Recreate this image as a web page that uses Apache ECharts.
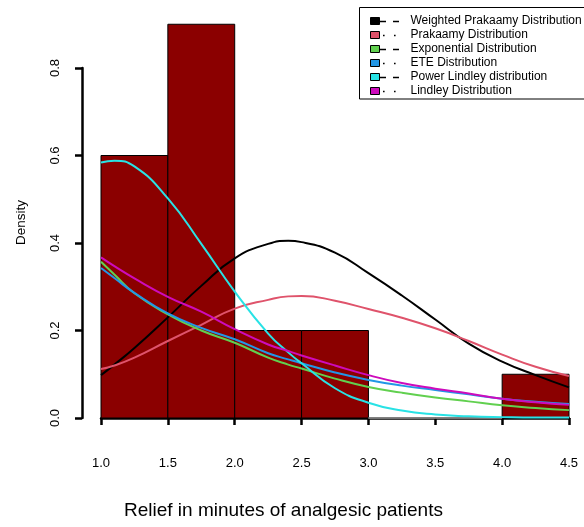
<!DOCTYPE html>
<html><head><meta charset="utf-8">
<script src="https://cdn.jsdelivr.net/npm/echarts@6/dist/echarts.min.js"></script>
<style>html,body{margin:0;padding:0;background:#fff}#c{width:584px;height:527px}</style>
</head><body><div id="c"></div>
<script>
// Histogram bins
const binStart = [1.0, 1.5, 2.0, 2.5, 3.0, 3.5, 4.0];
const binEnd   = [1.5, 2.0, 2.5, 3.0, 3.5, 4.0, 4.5];
const binDensity = [0.6, 0.9, 0.2, 0.2, 0.0, 0.0, 0.1];

// Fitted density curves
const curveX = [1.0, 1.1, 1.25, 1.5, 1.75, 2.0, 2.25, 2.4, 2.5, 2.75, 3.0, 3.25, 3.5, 3.75, 4.0, 4.25, 4.5];
const weightedPrakaamy = [0.098, 0.122, 0.160, 0.230, 0.302, 0.365, 0.398, 0.405, 0.402, 0.378, 0.331, 0.280, 0.225, 0.170, 0.129, 0.098, 0.070];
const prakaamy         = [0.112, 0.120, 0.138, 0.176, 0.213, 0.250, 0.270, 0.278, 0.279, 0.268, 0.249, 0.229, 0.205, 0.176, 0.145, 0.117, 0.096];
const exponential      = [0.357, 0.328, 0.285, 0.237, 0.200, 0.172, 0.138, 0.122, 0.113, 0.090, 0.071, 0.058, 0.047, 0.038, 0.029, 0.023, 0.018];
const ete              = [0.343, 0.320, 0.286, 0.239, 0.206, 0.180, 0.148, 0.134, 0.125, 0.104, 0.087, 0.074, 0.064, 0.054, 0.044, 0.037, 0.032];
const powerLindley     = [0.584, 0.588, 0.575, 0.502, 0.398, 0.289, 0.193, 0.150, 0.125, 0.068, 0.035, 0.017, 0.008, 0.004, 0.002, 0.001, 0.001];
const lindley          = [0.367, 0.347, 0.319, 0.277, 0.243, 0.203, 0.168, 0.153, 0.143, 0.120, 0.098, 0.080, 0.067, 0.056, 0.044, 0.036, 0.030];

const seriesNames = ['Weighted Prakaamy Distribution', 'Prakaamy Distribution', 'Exponential Distribution',
                     'ETE Distribution', 'Power Lindley distribution', 'Lindley Distribution'];
const seriesValues = [weightedPrakaamy, prakaamy, exponential, ete, powerLindley, lindley];
const seriesColors = ['#000000', '#DF536B', '#61D04F', '#2297E6', '#28E2E5', '#CD0BBC'];
const legendDashed = [true, false, true, false, true, false];

const xTickMin = 1.0, xTickMax = 4.5, xTickStep = 0.5;
const yTickMin = 0.0, yTickMax = 0.8, yTickStep = 0.2;

const chart = echarts.init(document.getElementById('c'), null, {renderer: 'canvas'});

const FONT = 'Liberation Sans, Arial, sans-serif';
const histData = binStart.map((s, i) => [s, binEnd[i], binDensity[i]]);

const series = [{
  type: 'custom',
  name: 'hist',
  clip: false,
  z: 1,
  data: histData,
  encode: {x: [0, 1], y: 2},
  renderItem: function (params, api) {
    const x0 = api.value(0), x1 = api.value(1), h = api.value(2);
    const p0 = api.coord([x0, 0]);
    const p1 = api.coord([x1, h]);
    return {
      type: 'rect',
      shape: {x: p0[0], y: p1[1], width: p1[0] - p0[0], height: p0[1] - p1[1]},
      style: {fill: '#8B0000', stroke: h > 0 ? '#000' : '#999', lineWidth: 1}
    };
  }
}];
seriesNames.forEach((n, i) => {
  series.push({
    type: 'line',
    name: n,
    data: curveX.map((x, j) => [x, seriesValues[i][j]]),
    smooth: 0.5,
    showSymbol: false,
    symbol: 'none',
    z: 3,
    color: seriesColors[i],
    lineStyle: {color: seriesColors[i], width: 2},
    itemStyle: {color: seriesColors[i], borderColor: '#000', borderWidth: 1}
  });
});

// legend box and line-type marks
const legendTop = 14, rowH = 14;
const graphics = [{
  type: 'rect', shape: {x: 359.5, y: 7.5, width: 240, height: 91.5}, style: {fill: 'none', stroke: '#000', lineWidth: 1}, z: 10
}];
seriesNames.forEach((n, i) => {
  const cy = legendTop + rowH * i + rowH / 2 + 0.5;
  if (legendDashed[i]) {
    graphics.push({type: 'line', shape: {x1: 379, y1: cy, x2: 386, y2: cy}, style: {stroke: '#000', lineWidth: 1.5}, z: 10});
    graphics.push({type: 'line', shape: {x1: 393, y1: cy, x2: 399, y2: cy}, style: {stroke: '#000', lineWidth: 1.5}, z: 10});
  } else {
    graphics.push({type: 'rect', shape: {x: 383, y: cy - 0.75, width: 1.6, height: 1.6}, style: {fill: '#000'}, z: 10});
    graphics.push({type: 'rect', shape: {x: 394, y: cy - 0.75, width: 1.6, height: 1.6}, style: {fill: '#000'}, z: 10});
  }
});
graphics.push({type: 'text', left: 124, top: 501, style: {text: 'Relief in minutes of analgesic patients', font: '19px ' + FONT, fill: '#000'}});
graphics.push({type: 'text', x: 14, y: 245, rotation: Math.PI / 2, style: {text: 'Density', font: '13.5px ' + FONT, fill: '#000', textAlign: 'left', textVerticalAlign: 'top'}});

const option = {
  animation: false,
  backgroundColor: '#fff',
  grid: {left: 101, right: 15, top: 68, bottom: 109, containLabel: false},
  xAxis: {
    type: 'value', min: xTickMin, max: xTickMax, interval: xTickStep,
    offset: 16,
    axisLine: {show: true, lineStyle: {color: '#000', width: 2.5}},
    axisTick: {show: true, length: 7, lineStyle: {color: '#000', width: 2.5}},
    axisLabel: {fontFamily: FONT, fontSize: 13, color: '#000', margin: 23, formatter: v => v.toFixed(1)},
    splitLine: {show: false}
  },
  yAxis: {
    type: 'value', min: yTickMin, max: yTickMax, interval: yTickStep,
    offset: 19,
    axisLine: {show: true, lineStyle: {color: '#000', width: 2.5}},
    axisTick: {show: true, length: 7, lineStyle: {color: '#000', width: 2.5}},
    axisLabel: {fontFamily: FONT, fontSize: 13, color: '#000', margin: 20, rotate: 90, formatter: v => v.toFixed(1)},
    splitLine: {show: false}
  },
  legend: {
    data: seriesNames.map(n => ({name: n})),
    orient: 'vertical',
    left: 370, top: legendTop,
    padding: 0,
    itemGap: 0,
    itemWidth: 9, itemHeight: 7,
    icon: 'rect',
    itemStyle: {borderColor: '#000', borderWidth: 1},
    selectedMode: false,
    formatter: n => '{g|}' + n,
    textStyle: {fontFamily: FONT, fontSize: 12, color: '#000', lineHeight: 14,
      rich: {g: {width: 26}}}
  },
  graphic: graphics,
  series: series
};
chart.setOption(option);
</script></body></html>
